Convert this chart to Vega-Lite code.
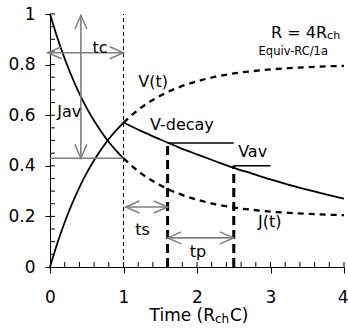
{
  "$schema": "https://vega.github.io/schema/vega-lite/v6.json",
  "width": 294,
  "height": 253,
  "autosize": {"type": "none"},
  "padding": {"left": 50, "top": 14, "right": 4, "bottom": 63},
  "background": "white",
  "config": {"view": {"stroke": null}, "text": {"font": "DejaVu Sans", "color": "black"}},
  "layer": [
    {
      "data": {"values": [
        {"s": "J", "t": 0, "v": 1}, {"s": "J", "t": 0.1, "v": 0.906}, {"s": "J", "t": 0.2, "v": 0.823}, {"s": "J", "t": 0.3, "v": 0.75}, {"s": "J", "t": 0.4, "v": 0.685}, {"s": "J", "t": 0.5, "v": 0.628}, {"s": "J", "t": 0.6, "v": 0.578}, {"s": "J", "t": 0.7, "v": 0.534}, {"s": "J", "t": 0.8, "v": 0.494}, {"s": "J", "t": 0.9, "v": 0.46}, {"s": "J", "t": 1, "v": 0.429},
        {"s": "V", "t": 0, "v": 0}, {"s": "V", "t": 0.1, "v": 0.094}, {"s": "V", "t": 0.2, "v": 0.177}, {"s": "V", "t": 0.3, "v": 0.25}, {"s": "V", "t": 0.4, "v": 0.315}, {"s": "V", "t": 0.5, "v": 0.372}, {"s": "V", "t": 0.6, "v": 0.422}, {"s": "V", "t": 0.7, "v": 0.466}, {"s": "V", "t": 0.8, "v": 0.506}, {"s": "V", "t": 0.9, "v": 0.54}, {"s": "V", "t": 1, "v": 0.571},
        {"s": "D", "t": 1, "v": 0.571}, {"s": "D", "t": 1.25, "v": 0.536}, {"s": "D", "t": 1.5, "v": 0.504}, {"s": "D", "t": 1.75, "v": 0.473}, {"s": "D", "t": 2, "v": 0.445}, {"s": "D", "t": 2.25, "v": 0.418}, {"s": "D", "t": 2.5, "v": 0.392}, {"s": "D", "t": 2.75, "v": 0.369}, {"s": "D", "t": 3, "v": 0.346}, {"s": "D", "t": 3.25, "v": 0.325}, {"s": "D", "t": 3.5, "v": 0.306}, {"s": "D", "t": 3.75, "v": 0.287}, {"s": "D", "t": 4, "v": 0.27}
      ]},
      "mark": {"type": "line", "color": "black", "strokeWidth": 1.8, "interpolate": "monotone"},
      "encoding": {
        "x": {"field": "t", "type": "quantitative", "scale": {"domain": [0, 4], "nice": false, "zero": false},
          "axis": {"title": null, "grid": false, "values": [0, 1, 2, 3, 4],
            "domainColor": "black", "tickColor": "black", "tickSize": 6, "labelColor": "black", "labelFont": "DejaVu Sans", "labelFontSize": 17,
            "labelFlush": false, "labelOverlap": false, "labelBound": false, "labelPadding": 16,
            "labelAlign": {"condition": {"test": "datum.value === 4", "value": "right"}, "value": "center"},
            "labelOffset": {"condition": {"test": "datum.value === 4", "value": 4}, "value": 0},
            "labelExpr": "toString(datum.value)"}},
        "y": {"field": "v", "type": "quantitative", "scale": {"domain": [0, 1], "nice": false},
          "axis": {"title": null, "grid": false, "values": [0, 0.2, 0.4, 0.6, 0.8, 1],
            "domainColor": "black", "tickColor": "black", "tickSize": 5, "labelColor": "black", "labelFont": "DejaVu Sans", "labelFontSize": 17,
            "labelFlush": false, "labelOverlap": false, "labelBound": false, "labelPadding": 10,
            "labelExpr": "toString(round(datum.value*10)/10)"}},
        "detail": {"field": "s"}
      }
    },
    {
      "data": {"values": [
        {"t": 0.2}, {"t": 0.4}, {"t": 0.6}, {"t": 0.8}, {"t": 1}, {"t": 1.2}, {"t": 1.4}, {"t": 1.6}, {"t": 1.8}, {"t": 2}, {"t": 2.2}, {"t": 2.4}, {"t": 2.6}, {"t": 2.8}, {"t": 3}, {"t": 3.2}, {"t": 3.4}, {"t": 3.6}, {"t": 3.8}, {"t": 4}
      ]},
      "mark": {"type": "rule", "color": "black", "strokeWidth": 1},
      "encoding": {"x": {"field": "t", "type": "quantitative"}, "y": {"datum": 0, "type": "quantitative"}, "y2": {"datum": 0.02}}
    },
    {
      "data": {"values": [
        {"v": 0.05}, {"v": 0.1}, {"v": 0.15}, {"v": 0.2}, {"v": 0.25}, {"v": 0.3}, {"v": 0.35}, {"v": 0.4}, {"v": 0.45}, {"v": 0.5}, {"v": 0.55}, {"v": 0.6}, {"v": 0.65}, {"v": 0.7}, {"v": 0.75}, {"v": 0.8}, {"v": 0.85}, {"v": 0.9}, {"v": 0.95}, {"v": 1}
      ]},
      "mark": {"type": "rule", "color": "black", "strokeWidth": 1},
      "encoding": {"y": {"field": "v", "type": "quantitative"}, "x": {"datum": 0, "type": "quantitative"}, "x2": {"datum": 0.068}}
    },
    {
      "data": {"values": [
        {"s": "Vd", "t": 1, "v": 0.571}, {"s": "Vd", "t": 1.25, "v": 0.632}, {"s": "Vd", "t": 1.5, "v": 0.677}, {"s": "Vd", "t": 1.75, "v": 0.71}, {"s": "Vd", "t": 2, "v": 0.734}, {"s": "Vd", "t": 2.25, "v": 0.752}, {"s": "Vd", "t": 2.5, "v": 0.765}, {"s": "Vd", "t": 2.75, "v": 0.774}, {"s": "Vd", "t": 3, "v": 0.781}, {"s": "Vd", "t": 3.25, "v": 0.786}, {"s": "Vd", "t": 3.5, "v": 0.79}, {"s": "Vd", "t": 3.75, "v": 0.793}, {"s": "Vd", "t": 4, "v": 0.795},
        {"s": "Jd", "t": 1, "v": 0.429}, {"s": "Jd", "t": 1.25, "v": 0.368}, {"s": "Jd", "t": 1.5, "v": 0.323}, {"s": "Jd", "t": 1.75, "v": 0.29}, {"s": "Jd", "t": 2, "v": 0.266}, {"s": "Jd", "t": 2.25, "v": 0.248}, {"s": "Jd", "t": 2.5, "v": 0.235}, {"s": "Jd", "t": 2.75, "v": 0.226}, {"s": "Jd", "t": 3, "v": 0.219}, {"s": "Jd", "t": 3.25, "v": 0.214}, {"s": "Jd", "t": 3.5, "v": 0.21}, {"s": "Jd", "t": 3.75, "v": 0.207}, {"s": "Jd", "t": 4, "v": 0.205}
      ]},
      "mark": {"type": "line", "color": "black", "strokeWidth": 2.3, "strokeDash": [6, 5], "interpolate": "monotone"},
      "encoding": {"x": {"field": "t", "type": "quantitative"}, "y": {"field": "v", "type": "quantitative"}, "detail": {"field": "s"}}
    },
    {
      "data": {"values": [{"t": 1, "v": 0, "v2": 1}]},
      "mark": {"type": "rule", "color": "black", "strokeWidth": 1, "strokeDash": [4, 3]},
      "encoding": {"x": {"field": "t", "type": "quantitative"}, "y": {"field": "v", "type": "quantitative"}, "y2": {"field": "v2"}}
    },
    {
      "data": {"values": [{"t": 1.6, "v": 0, "v2": 0.49}, {"t": 2.5, "v": 0, "v2": 0.4}]},
      "mark": {"type": "rule", "color": "black", "strokeWidth": 3, "strokeDash": [9, 5]},
      "encoding": {"x": {"field": "t", "type": "quantitative"}, "y": {"field": "v", "type": "quantitative"}, "y2": {"field": "v2"}}
    },
    {
      "data": {"values": [{"t": 1.6, "t2": 2.5, "v": 0.49}, {"t": 2.5, "t2": 3.0, "v": 0.4}]},
      "mark": {"type": "rule", "color": "black", "strokeWidth": 1.6},
      "encoding": {"x": {"field": "t", "type": "quantitative"}, "x2": {"field": "t2"}, "y": {"field": "v", "type": "quantitative"}}
    },
    {
      "data": {"values": [{"t": -0.03, "t2": 1, "v": 0.847}, {"t": 0, "t2": 1, "v": 0.43}, {"t": 1.03, "t2": 1.6, "v": 0.237}, {"t": 1.6, "t2": 2.5, "v": 0.115}]},
      "mark": {"type": "rule", "color": "#7f7f7f", "strokeWidth": 1.6},
      "encoding": {"x": {"field": "t", "type": "quantitative"}, "x2": {"field": "t2"}, "y": {"field": "v", "type": "quantitative"}}
    },
    {
      "data": {"values": [{"t": 0.42, "v": 0.43, "v2": 0.995}]},
      "mark": {"type": "rule", "color": "#7f7f7f", "strokeWidth": 1.6},
      "encoding": {"x": {"field": "t", "type": "quantitative"}, "y": {"field": "v", "type": "quantitative"}, "y2": {"field": "v2"}}
    },
    {
      "data": {"values": [
        {"t": -0.03, "v": 0.847, "dir": "left"}, {"t": 1, "v": 0.847, "dir": "right"},
        {"t": 0.42, "v": 0.995, "dir": "up"}, {"t": 0.42, "v": 0.43, "dir": "down"},
        {"t": 1.03, "v": 0.237, "dir": "left"}, {"t": 1.6, "v": 0.237, "dir": "right"},
        {"t": 1.6, "v": 0.115, "dir": "left"}, {"t": 2.5, "v": 0.115, "dir": "right"}
      ]},
      "mark": {"type": "point", "filled": false, "color": "#7f7f7f", "strokeWidth": 1.5, "size": 144, "opacity": 1},
      "encoding": {
        "x": {"field": "t", "type": "quantitative"},
        "y": {"field": "v", "type": "quantitative"},
        "shape": {"field": "dir", "type": "nominal", "legend": null,
          "scale": {"domain": ["left", "right", "up", "down"], "range": ["M2.3,-1L0,0L2.3,1", "M-2.3,-1L0,0L-2.3,1", "M-1,2.3L0,0L1,2.3", "M-1,-2.3L0,0L1,-2.3"]}}
      }
    },
    {
      "data": {"values": [
        {"t": 0.1, "v": 0.593, "label": "Jav"},
        {"t": 1.2, "v": 0.71, "label": "V(t)"},
        {"t": 1.36, "v": 0.54, "label": "V-decay"},
        {"t": 2.56, "v": 0.435, "label": "Vav"},
        {"t": 2.83, "v": 0.158, "label": "J(t)"},
        {"t": 1.16, "v": 0.126, "label": "ts"},
        {"t": 1.9, "v": 0.04, "label": "tp"}
      ]},
      "mark": {"type": "text", "align": "left", "baseline": "alphabetic", "fontSize": 16},
      "encoding": {"x": {"field": "t", "type": "quantitative"}, "y": {"field": "v", "type": "quantitative"}, "text": {"field": "label"}}
    },
    {
      "data": {"values": [{"t": 0.68, "v": 0.847, "label": "tc"}]},
      "mark": {"type": "text", "align": "center", "baseline": "alphabetic", "fontSize": 16},
      "encoding": {"x": {"field": "t", "type": "quantitative"}, "y": {"field": "v", "type": "quantitative"}, "text": {"field": "label"}}
    },
    {
      "data": {"values": [{"t": 3.77, "v": 0.905, "label": "R = 4R"}]},
      "mark": {"type": "text", "align": "right", "baseline": "alphabetic", "fontSize": 16},
      "encoding": {"x": {"field": "t", "type": "quantitative"}, "y": {"field": "v", "type": "quantitative"}, "text": {"field": "label"}}
    },
    {
      "data": {"values": [{"t": 3.77, "v": 0.9, "label": "ch"}]},
      "mark": {"type": "text", "align": "left", "baseline": "alphabetic", "fontSize": 11},
      "encoding": {"x": {"field": "t", "type": "quantitative"}, "y": {"field": "v", "type": "quantitative"}, "text": {"field": "label"}}
    },
    {
      "data": {"values": [{"t": 3.31, "v": 0.838, "label": "Equiv-RC/1a"}]},
      "mark": {"type": "text", "align": "center", "baseline": "alphabetic", "fontSize": 11.5},
      "encoding": {"x": {"field": "t", "type": "quantitative"}, "y": {"field": "v", "type": "quantitative"}, "text": {"field": "label"}}
    },
    {
      "data": {"values": [{"t": 2.245, "v": -0.213, "label": "Time (R"}]},
      "mark": {"type": "text", "align": "right", "baseline": "alphabetic", "fontSize": 17},
      "encoding": {"x": {"field": "t", "type": "quantitative"}, "y": {"field": "v", "type": "quantitative"}, "text": {"field": "label"}}
    },
    {
      "data": {"values": [{"t": 2.245, "v": -0.221, "label": "ch"}]},
      "mark": {"type": "text", "align": "left", "baseline": "alphabetic", "fontSize": 12},
      "encoding": {"x": {"field": "t", "type": "quantitative"}, "y": {"field": "v", "type": "quantitative"}, "text": {"field": "label"}}
    },
    {
      "data": {"values": [{"t": 2.449, "v": -0.213, "label": "C)"}]},
      "mark": {"type": "text", "align": "left", "baseline": "alphabetic", "fontSize": 17},
      "encoding": {"x": {"field": "t", "type": "quantitative"}, "y": {"field": "v", "type": "quantitative"}, "text": {"field": "label"}}
    }
  ]
}
